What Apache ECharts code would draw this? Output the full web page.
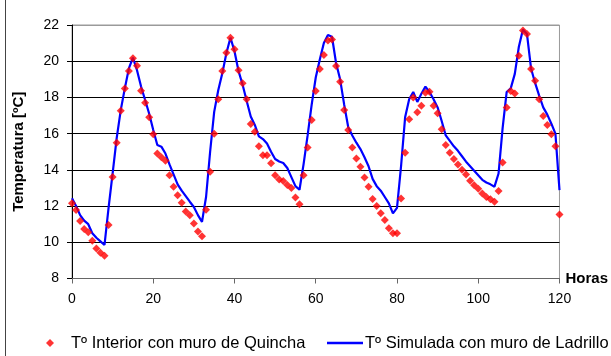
<!DOCTYPE html>
<html>
<head>
<meta charset="utf-8">
<script src="https://cdn.jsdelivr.net/npm/echarts@6/dist/echarts.min.js"></script>
<style>
  html, body { margin: 0; padding: 0; background: #fff; }
  #chart { width: 611px; height: 356px; }
</style>
</head>
<body>
<div id="chart"></div>
<script>
// Hourly indoor temperatures over five days (hours 0..120)
const hourTicks = [0, 20, 40, 60, 80, 100, 120];
const tempTicks = [8, 10, 12, 14, 16, 18, 20, 22];

// Measured indoor temperature, quincha wall (ºC), one value per hour
const quincha = [
  12.15, 11.78, 11.17, 10.73, 10.55, 10.08, 9.66, 9.42, 9.25, 10.95,
  13.6, 15.5, 17.27, 18.5, 19.46, 20.16, 19.75, 18.37, 17.7, 16.9,
  15.96, 14.9, 14.7, 14.5, 13.7, 13.07, 12.6, 12.18, 11.7, 11.5,
  11.04, 10.6, 10.34, 11.8, 13.9, 16.0, 17.9, 19.46, 20.47, 21.3,
  20.66, 19.5, 18.78, 17.9, 16.53, 16.1, 15.3, 14.8, 14.8, 14.36,
  13.7, 13.47, 13.38, 13.16, 13.0, 12.48, 12.1, 13.7, 15.24, 16.75,
  18.35, 19.57, 20.34, 21.15, 21.2, 19.73, 18.87, 17.3, 16.2, 15.24,
  14.63, 14.17, 13.58, 13.07, 12.39, 12.0, 11.6, 11.23, 10.77, 10.5,
  10.5, 12.42, 14.95, 16.8, 18.0, 17.18, 17.54, 18.26, 18.31, 17.54,
  17.12, 16.24, 15.37, 14.95, 14.6, 14.3, 14.0, 13.75, 13.4, 13.15,
  12.95, 12.7, 12.5, 12.37, 12.24, 12.83, 14.41, 17.45, 18.35, 18.22,
  20.3, 21.69, 21.5, 19.57, 18.92, 17.9, 16.97, 16.48, 15.96, 15.3,
  11.54
];

// Simulated indoor temperature, brick wall (ºC), one value per hour
const ladrillo = [
  12.43, 12.0, 11.5, 11.2, 11.0, 10.5, 10.25, 10.05, 9.85, 11.9,
  13.8, 15.75, 17.3, 18.5, 19.6, 20.2, 19.5, 18.6, 17.86, 17.1,
  16.2, 15.37, 15.28, 14.9, 14.3, 13.75, 13.2, 12.85, 12.55, 12.24,
  11.95, 11.5, 11.13, 12.5, 15.0, 17.2, 18.4, 19.33, 20.44, 21.3,
  20.55, 19.45, 18.7, 17.8, 16.95, 16.48, 15.85, 15.7, 15.45, 15.0,
  14.6, 14.46, 14.38, 14.1, 13.6, 13.1, 12.9, 14.3, 15.9, 17.6,
  19.1, 20.1, 21.0, 21.45, 21.35, 19.9, 19.0, 17.6, 16.35, 15.9,
  15.5, 15.15, 14.7, 14.2, 13.5, 13.1, 12.85, 12.5, 12.15, 11.6,
  11.9, 14.2, 16.9, 17.9, 18.3, 17.75, 18.2, 18.6, 18.3, 17.9,
  17.45, 16.7, 15.9, 15.6, 15.3, 15.05, 14.75, 14.45, 14.2, 13.95,
  13.7, 13.45, 13.3, 13.2, 13.07, 13.8, 16.3, 18.3, 18.5, 19.3,
  20.8, 21.75, 21.5, 19.6, 18.8, 18.1, 17.45, 17.05, 16.55, 16.0,
  12.88
];

const hours = quincha.map((_, i) => i);

const nameQuincha = 'Tº Interior con muro de Quincha';
const nameLadrillo = 'Tº Simulada con muro de Ladrillo';

const FONT = '"Liberation Sans", Arial, sans-serif';

const chart = echarts.init(document.getElementById('chart'), null, { renderer: 'canvas' });

chart.setOption({
  animation: false,
  backgroundColor: '#fff',
  textStyle: { fontFamily: FONT, color: '#000' },
  grid: {
    left: 72, top: 25, width: 492, height: 253.5,
    show: true, borderColor: '#9a9a9a', borderWidth: 1, backgroundColor: 'transparent'
  },
  graphic: [{
    type: 'line',
    shape: { x1: 5.5, y1: 0, x2: 5.5, y2: 356 },
    style: { stroke: '#444', lineWidth: 1 },
    silent: true
  }],
  legend: [{
    data: [{ name: nameQuincha, icon: 'diamond' }],
    left: 46, top: 334, padding: 0,
    itemWidth: 8, itemHeight: 8,
    textStyle: { fontSize: 16.5, lineHeight: 18, fontFamily: FONT, color: '#000', padding: [0, 0, 0, 12] }
  }, {
    data: [{ name: nameLadrillo, icon: 'rect' }],
    left: 327, top: 334, padding: 0,
    itemWidth: 36, itemHeight: 2.5,
    textStyle: { fontSize: 16.5, lineHeight: 18, fontFamily: FONT, color: '#000', padding: [0, 0, 0, -3] }
  }],
  xAxis: {
    type: 'value', min: hourTicks[0], max: hourTicks[hourTicks.length - 1], interval: 20,
    name: 'Horas', nameLocation: 'end', nameGap: 6,
    nameTextStyle: { fontSize: 15, fontWeight: 'bold', fontFamily: FONT, color: '#000', verticalAlign: 'middle' },
    axisLine: { lineStyle: { color: '#666', width: 1 } },
    axisTick: { show: true, length: 5, lineStyle: { color: '#666' } },
    axisLabel: { fontSize: 14, margin: 14, color: '#000', fontFamily: FONT },
    splitLine: { show: false }
  },
  yAxis: {
    type: 'value', min: tempTicks[0], max: tempTicks[tempTicks.length - 1], interval: 2,
    name: 'Temperatura [ºC]', nameLocation: 'middle', nameRotate: 90, nameGap: 46,
    nameTextStyle: { fontSize: 15, fontWeight: 'bold', fontFamily: FONT, color: '#000' },
    axisLine: { show: true, lineStyle: { color: '#000', width: 1 } },
    axisTick: { show: true, length: 5, lineStyle: { color: '#000' } },
    axisLabel: { fontSize: 14, margin: 13, color: '#000', fontFamily: FONT },
    splitLine: {
      show: true,
      lineStyle: { color: ['#666', '#000', '#000', '#000', '#000', '#000', '#000', '#9a9a9a'], width: 1 }
    }
  },
  series: [{
    name: nameLadrillo,
    type: 'line',
    data: hours.map((h, i) => [h, ladrillo[i]]),
    showSymbol: false,
    symbol: 'none',
    lineStyle: { color: '#0000ff', width: 2.2 },
    itemStyle: { color: '#0000ff' },
    z: 2
  }, {
    name: nameQuincha,
    type: 'scatter',
    data: hours.map((h, i) => [h, quincha[i]]),
    symbol: 'diamond',
    symbolSize: 8,
    itemStyle: { color: '#ff0000' },
    z: 3
  }]
});
</script>
</body>
</html>
